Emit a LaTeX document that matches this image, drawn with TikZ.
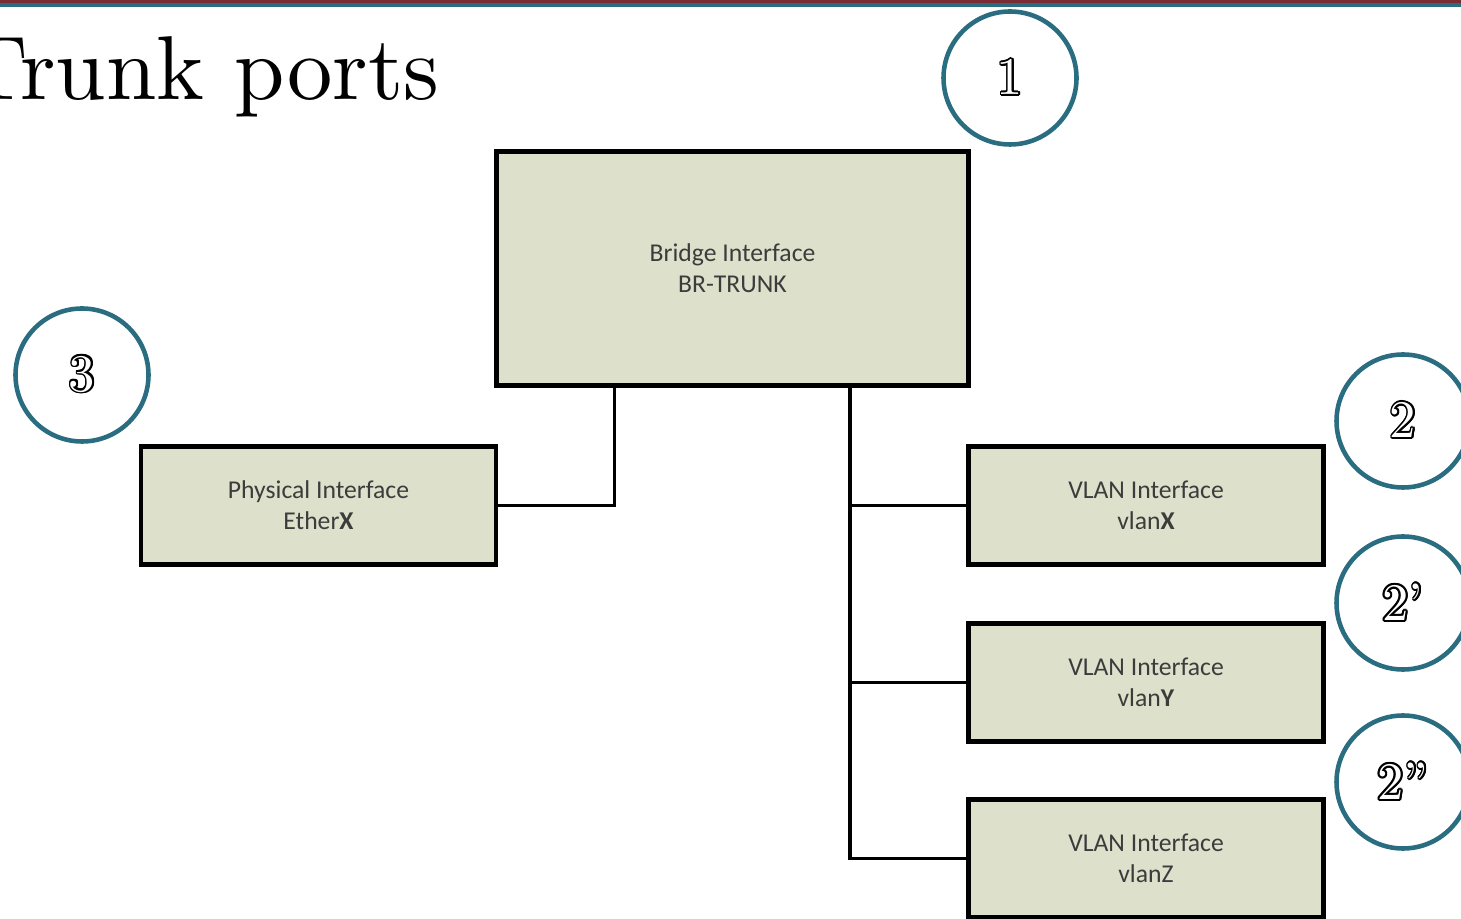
\documentclass[tikz,border=0pt]{standalone}
\usepackage{fontspec}
\usepackage[dvipsnames]{xcolor}
\usepackage{tikz}
\usepackage[copies]{contour}
\usetikzlibrary{positioning}

\newfontfamily\boxfont{Carlito}
\newfontfamily\titlefont[Extension=.otf, Ligatures=TeX]{lmroman10-regular}
\definecolor{bandred}{HTML}{7A2B33}
\definecolor{bandteal}{HTML}{2A6C80}
\definecolor{boxfill}{HTML}{DDE0CA}
\definecolor{boxtext}{HTML}{3C3C3C}
\contourlength{0.5pt}

\begin{document}
\begin{tikzpicture}[
  iface/.style={draw=black, line width=1.4pt, fill=boxfill, align=center,
    text=boxtext, font=\boxfont\fontsize{7.3}{8.8}\selectfont, inner sep=0pt},
  marker/.style={circle, draw=bandteal, line width=1.3pt, minimum size=1.33cm,
    inner sep=0pt, font=\titlefont\fontsize{15}{15}\selectfont},
  wire/.style={line width=0.9pt}
]
  % Fix the page
  \clip (0,0) rectangle (14.61,-9.19);

  % Draw the band at the top
  \fill[bandred] (0,0) rectangle (14.61,-0.03);
  \fill[bandteal] (0,-0.03) rectangle (14.61,-0.07);

  % Title
  \node[anchor=base east, inner sep=0pt, font=\titlefont\fontsize{25.8}{30}\selectfont] (title) at (4.40,-1.00) {Trunk ports};

  % Define the centres of the boxes
  \coordinate (B) at (7.325,-2.685);
  \coordinate (P) at (3.185,-5.055);
  \coordinate (X) at (11.46,-5.055);
  \coordinate (Y) at (11.46,-6.825);
  \coordinate (Z) at (11.46,-8.585);
  \coordinate (T) at (8.50,-3.87);

  % Draw the interfaces
  \node[iface, minimum width=4.72cm, minimum height=2.34cm] (br) at (B) {Bridge Interface\\BR-TRUNK};
  \node[iface, minimum width=3.55cm, minimum height=1.18cm] (phys) at (P) {Physical Interface\\Ether\textbf{X}};
  \node[iface, minimum width=3.55cm, minimum height=1.18cm] (vx) at (X) {VLAN Interface\\vlan\textbf{X}};
  \node[iface, minimum width=3.55cm, minimum height=1.18cm] (vy) at (Y) {VLAN Interface\\vlan\textbf{Y}};
  \node[iface, minimum width=3.55cm, minimum height=1.18cm] (vz) at (Z) {VLAN Interface\\vlanZ};

  % Draw the connections from the bridge
  \draw[wire] ([xshift=-1.18cm]br.south) |- (phys.east);
  \draw[wire] (T) |- (vz.west);
  \draw[wire] (T) |- (vx.west);
  \draw[wire] (T) |- (vy.west);
  \draw[line width=1.4pt] (T) -- (T |- vy.west);

  % Label the steps
  \node[marker] (m1) at (10.10,-0.78) {\contour{black}{\textcolor{white}{1}}};
  \node[marker] (m3) at (0.82,-3.75) {\contour{black}{\textcolor{white}{3}}};
  \node[marker] (m2) at (14.03,-4.21) {\contour{black}{\textcolor{white}{2}}};
  \node[marker] (m2a) at (14.03,-6.03) {\contour{black}{\textcolor{white}{2'}}};
  \node[marker] (m2b) at (14.03,-7.82) {\contour{black}{\textcolor{white}{2''}}};
\end{tikzpicture}
\end{document}
